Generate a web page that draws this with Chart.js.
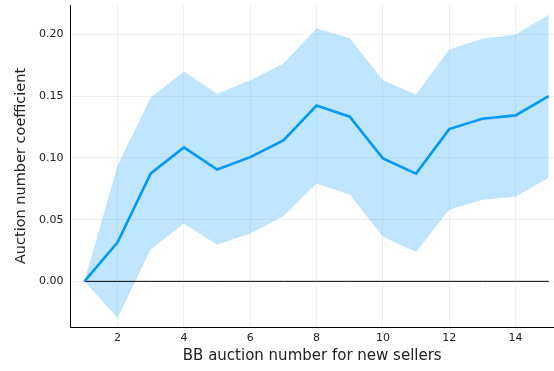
<!DOCTYPE html>
<html>
<head>
<meta charset="utf-8">
<script src="https://cdn.jsdelivr.net/npm/chart.js@4"></script>
<style>
  html, body { margin: 0; padding: 0; background: #fff; }
  #wrap { width: 554px; height: 371px; }
</style>
</head>
<body>
<div id="wrap"><canvas id="coefChart"></canvas></div>
<script>
const auctionNumbers = [1, 2, 3, 4, 5, 6, 7, 8, 9, 10, 11, 12, 13, 14, 15];
const coefficient = [0, 0.0316, 0.0875, 0.1086, 0.0906, 0.1007, 0.1143, 0.1425, 0.1335, 0.0997, 0.0873, 0.1234, 0.1318, 0.1345, 0.1502];
const upperBound = [0, 0.094, 0.149, 0.170, 0.152, 0.163, 0.1765, 0.205, 0.197, 0.163, 0.1515, 0.188, 0.1967, 0.200, 0.216];
const lowerBound = [0, -0.0297, 0.026, 0.0467, 0.0297, 0.0388, 0.0528, 0.0793, 0.0705, 0.0362, 0.0238, 0.0581, 0.0662, 0.0686, 0.084];
const xTicks = [2, 4, 6, 8, 10, 12, 14];
const yTicks = [0, 0.05, 0.10, 0.15, 0.20];

const toPoints = (ys) => auctionNumbers.map((x, i) => ({ x: x, y: ys[i] }));
const fontFamily = '"DejaVu Sans", sans-serif';

const ctx = document.getElementById('coefChart').getContext('2d');
new Chart(ctx, {
  type: 'line',
  data: {
    datasets: [
      {
        label: 'mean',
        data: toPoints(coefficient),
        borderColor: '#009AFA',
        borderWidth: 2.6,
        pointRadius: 0,
        fill: false,
        order: 0
      },
      {
        label: 'zero',
        data: toPoints(auctionNumbers.map(() => 0)),
        borderColor: '#000',
        borderWidth: 1,
        pointRadius: 0,
        fill: false,
        order: 1
      },
      {
        label: 'upper',
        data: toPoints(upperBound),
        borderWidth: 0,
        borderColor: 'rgba(0,0,0,0)',
        backgroundColor: 'rgba(0, 154, 250, 0.25)',
        pointRadius: 0,
        fill: '+1',
        order: 2
      },
      {
        label: 'lower',
        data: toPoints(lowerBound),
        borderWidth: 0,
        borderColor: 'rgba(0,0,0,0)',
        pointRadius: 0,
        fill: false,
        order: 3
      }
    ]
  },
  options: {
    responsive: true,
    maintainAspectRatio: false,
    animation: false,
    layout: { padding: { top: 5, right: 0, left: 0, bottom: 0 } },
    plugins: {
      legend: { display: false },
      tooltip: { enabled: false }
    },
    scales: {
      x: {
        type: 'linear',
        min: 0.58,
        max: 15.16,
        afterBuildTicks: (axis) => { axis.ticks = xTicks.map(v => ({ value: v })); },
        afterFit: (axis) => {
          axis.height = 44;
          axis.paddingLeft = 0;
          axis.paddingRight = 0;
        },
        grid: { color: 'rgba(0,0,0,0.06)', tickLength: 0 },
        border: { color: '#000', width: 1 },
        ticks: {
          color: '#222',
          padding: 5,
          maxRotation: 0,
          font: { family: fontFamily, size: 11 }
        },
        title: {
          display: true,
          text: 'BB auction number for new sellers',
          color: '#222',
          padding: { top: 0, bottom: 6 },
          font: { family: fontFamily, size: 15 }
        }
      },
      y: {
        min: -0.037,
        max: 0.224,
        afterBuildTicks: (axis) => { axis.ticks = yTicks.map(v => ({ value: v })); },
        afterFit: (axis) => {
          axis.width = 70.5;
          axis.paddingTop = 0;
          axis.paddingBottom = 0;
        },
        grid: { color: 'rgba(0,0,0,0.06)', tickLength: 0 },
        border: { color: '#000', width: 1 },
        ticks: {
          color: '#222',
          padding: 7,
          font: { family: fontFamily, size: 11 },
          callback: (v) => v.toFixed(2)
        },
        title: {
          display: true,
          text: 'Auction number coefficient',
          color: '#222',
          padding: { top: 13, bottom: 0 },
          font: { family: fontFamily, size: 14.5 }
        }
      }
    }
  }
});
</script>
</body>
</html>
